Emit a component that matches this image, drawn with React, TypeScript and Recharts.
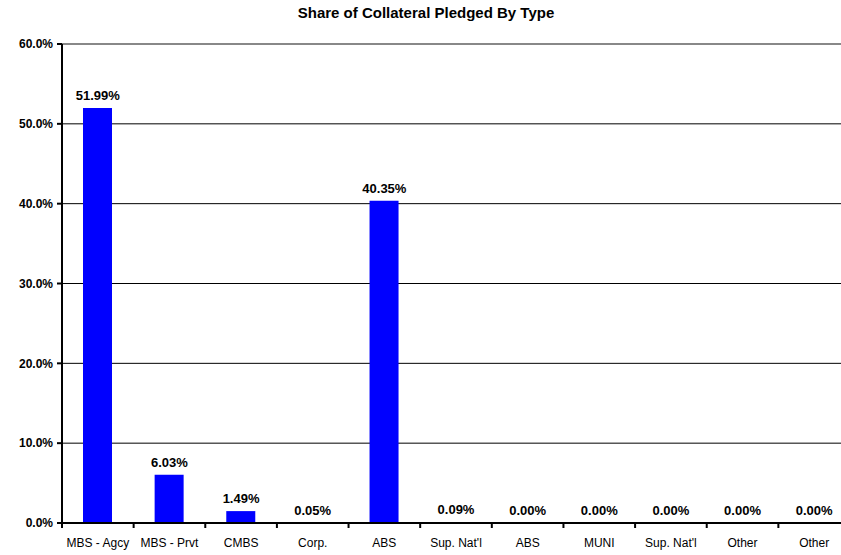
import { ComposedChart, Bar, Line, XAxis, YAxis, CartesianGrid, LabelList, ReferenceLine } from "recharts"

const categories = [
  "MBS - Agcy",
  "MBS - Prvt",
  "CMBS",
  "Corp.",
  "ABS",
  "Sup. Nat'l",
  "ABS",
  "MUNI",
  "Sup. Nat'l",
  "Other",
  "Other",
]
const shares = [51.99, 6.03, 1.49, 0.05, 40.35, 0.09, 0.0, 0.0, 0.0, 0.0, 0.0]
const yTicks = [0, 10, 20, 30, 40, 50, 60]
const gridValues = [10, 20, 30, 40, 50]

const data = categories.map((name, i) => ({ key: i, name, share: shares[i] }))

const CHART_W = 850
const CHART_H = 555
const LEFT = 62
const BAND = (CHART_W - LEFT) / categories.length

const font = "'Liberation Sans', Arial, sans-serif"

function CategoryTick(props: any) {
  const { x, y, payload, index } = props
  const left = x - BAND / 2
  return (
    <g>
      <line x1={left} y1={y - 8} x2={left} y2={y - 3} stroke="#000" strokeWidth={2} />
      {index === categories.length - 1 && (
        <line x1={left + BAND} y1={y - 8} x2={left + BAND} y2={y - 3} stroke="#000" strokeWidth={2} />
      )}
      <text x={x} y={y + 16} textAnchor="middle" fontFamily={font} fontSize={12} fill="#000">
        {categories[payload.value]}
      </text>
    </g>
  )
}

export default function App() {
  return (
    <div style={{ position: "absolute", left: 0, top: 0, width: 841, height: 555, overflow: "hidden", background: "#fff" }}>
      <ComposedChart
        width={CHART_W}
        height={CHART_H}
        data={data}
        margin={{ top: 44, right: 0, bottom: 0, left: 0 }}
        barCategoryGap={0}
      >
        <text x={426} y={18} textAnchor="middle" fontFamily={font} fontSize={15} fontWeight="bold" fill="#000">
          Share of Collateral Pledged By Type
        </text>
        <CartesianGrid vertical={false} horizontalValues={gridValues} stroke="#000" strokeWidth={1} />
        <ReferenceLine y={60} stroke="#888" strokeWidth={2} />
        <XAxis
          dataKey="key"
          type="category"
          height={32}
          axisLine={{ stroke: "#000", strokeWidth: 2 }}
          tickLine={false}
          tick={<CategoryTick />}
          interval={0}
        />
        <YAxis
          width={LEFT}
          domain={[0, 60]}
          ticks={yTicks}
          tickFormatter={(v: number) => `${v.toFixed(1)}%`}
          axisLine={{ stroke: "#000", strokeWidth: 2 }}
          tickLine={{ stroke: "#000", strokeWidth: 2 }}
          tickSize={5}
          tickMargin={4}
          tick={{ fontFamily: font, fontSize: 12, fontWeight: "bold", fill: "#000" }}
        />
        <Bar dataKey="share" fill="#0000ff" barSize={29} isAnimationActive={false} />
        <Line dataKey="share" stroke="none" dot={false} activeDot={false} isAnimationActive={false}>
          <LabelList
            dataKey="share"
            position="top"
            offset={8}
            formatter={(v: any) => `${Number(v).toFixed(2)}%`}
            style={{ fontFamily: font, fontSize: 13, fontWeight: "bold", fill: "#000" }}
          />
        </Line>
      </ComposedChart>
    </div>
  )
}
